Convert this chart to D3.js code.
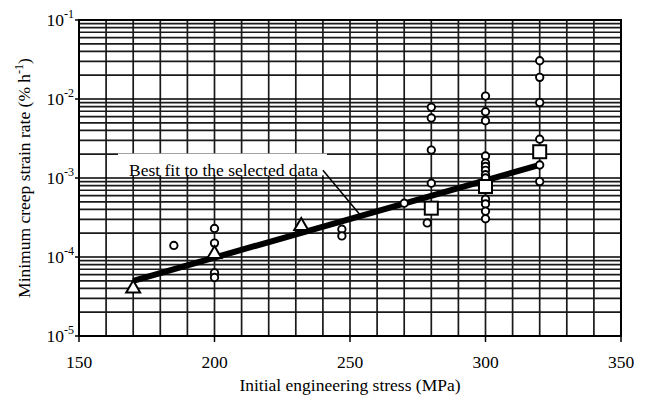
<!DOCTYPE html>
<html>
<head>
<meta charset="utf-8">
<script src="https://cdn.jsdelivr.net/npm/d3@7"></script>
<style>
  body { margin: 0; background: #fff; }
  text { font-family: "Liberation Serif", "Times New Roman", serif; fill: #000; }
</style>
</head>
<body>
<div id="chart"></div>
<script>
// data (stress in MPa, rate in % per hour)
var circleStress = [185, 200, 200, 200, 200, 247, 247, 270,
    280, 280, 280, 280, 278.5,
    300, 300, 300, 300, 300, 300, 300, 300, 300, 300, 300, 300, 300,
    320, 320, 320, 320, 320, 320];
var circleRate = [1.4e-4, 2.3e-4, 1.5e-4, 6.3e-5, 5.5e-5, 2.25e-4, 1.85e-4, 4.8e-4,
    7.85e-3, 5.75e-3, 2.26e-3, 8.6e-4, 2.7e-4,
    1.09e-2, 6.9e-3, 5.3e-3, 1.9e-3, 1.55e-3, 1.4e-3, 1.25e-3, 1.1e-3, 1.0e-3, 5.4e-4, 4.7e-4, 3.8e-4, 3.05e-4,
    3.05e-2, 1.88e-2, 9e-3, 3.1e-3, 1.46e-3, 9e-4];
var triStress = [170, 200, 232];
var triRate = [4.1e-5, 1.12e-4, 2.55e-4];
var sqStress = [280, 300, 320];
var sqRate = [4.15e-4, 7.8e-4, 2.15e-3];
var fitStress = [170, 320];
var fitRate = [5e-5, 1.47e-3];
var xTicks = [150, 200, 250, 300, 350];
var yExp = [-5, -4, -3, -2, -1];

var W = 647, H = 398;
var margin = { top: 20, right: 26, bottom: 62, left: 79 };

var svg = d3.select("#chart").append("svg")
    .attr("width", W)
    .attr("height", H);

var x = d3.scaleLinear().domain([150, 350]).range([margin.left, W - margin.right]);
var y = d3.scaleLog().domain([1e-5, 1e-1]).range([H - margin.bottom, margin.top]);

var x0 = x.range()[0], x1 = x.range()[1];
var yb = y.range()[0], yt = y.range()[1];

// grid
var grid = svg.append("g").attr("stroke", "#1a1a1a").attr("stroke-width", 1.7);
d3.range(160, 350, 10).forEach(function (v) {
    grid.append("line").attr("x1", x(v)).attr("x2", x(v)).attr("y1", yt).attr("y2", yb);
});
yExp.slice(0, 4).forEach(function (e) {
    d3.range(1, 10).forEach(function (k) {
        var v = k * Math.pow(10, e);
        grid.append("line").attr("x1", x0).attr("x2", x1).attr("y1", y(v)).attr("y2", y(v))
            .attr("stroke", k == 1 ? "#000" : "#1a1a1a");
    });
});

// frame
svg.append("rect").attr("x", x0).attr("y", yt).attr("width", x1 - x0).attr("height", yb - yt)
    .attr("fill", "none").attr("stroke", "#000").attr("stroke-width", 2);

// x ticks + labels
xTicks.forEach(function (v) {
    svg.append("line").attr("x1", x(v)).attr("x2", x(v)).attr("y1", yb).attr("y2", yb + 6)
        .attr("stroke", "#000").attr("stroke-width", 1.5);
    svg.append("text").attr("x", x(v)).attr("y", yb + 32).attr("text-anchor", "middle")
        .style("font-size", "17.5px").text(v);
});

// y ticks + labels
yExp.forEach(function (e) {
    var v = Math.pow(10, e);
    svg.append("line").attr("x1", x0 - 4).attr("x2", x0).attr("y1", y(v)).attr("y2", y(v))
        .attr("stroke", "#000").attr("stroke-width", 1.5);
    var t = svg.append("text").attr("x", x0 - 5).attr("y", y(v) + 6).attr("text-anchor", "end")
        .style("font-size", "17.5px");
    t.append("tspan").text("10");
    t.append("tspan").attr("dy", -8).style("font-size", "12px").text(e);
});

// annotation box (white patch over grid)
var boxL = 118, boxR = 327;
svg.append("rect").attr("x", boxL).attr("y", y(2.1e-3) + 1).attr("width", boxR - boxL)
    .attr("height", y(1.05e-3) - y(2.1e-3) - 2).attr("fill", "#fff");
svg.append("text").attr("x", (boxL + boxR) / 2 + 1).attr("y", y(1.5e-3) + 12)
    .attr("text-anchor", "middle").style("font-size", "17.5px").text("Best fit to the selected data");

// leader line onto the fit
var fitAt = d3.scaleLinear().domain(fitStress).range(fitRate.map(Math.log10));
svg.append("line")
    .attr("x1", x(240)).attr("y1", y(1.25e-3))
    .attr("x2", x(254)).attr("y2", y(Math.pow(10, fitAt(254))))
    .attr("stroke", "#000").attr("stroke-width", 1.5);

// fit line
svg.append("path")
    .datum(fitStress.map(function (s, i) { return [s, fitRate[i]]; }))
    .attr("d", d3.line().x(function (d) { return x(d[0]); }).y(function (d) { return y(d[1]); }))
    .attr("stroke", "#000").attr("stroke-width", 6).attr("fill", "none");

// circles
svg.append("g").selectAll("circle")
    .data(circleStress.map(function (s, i) { return [s, circleRate[i]]; }))
    .enter().append("circle")
    .attr("cx", function (d) { return x(d[0]); })
    .attr("cy", function (d) { return y(d[1]); })
    .attr("r", 3.7)
    .attr("fill", "#fff").attr("stroke", "#000").attr("stroke-width", 1.9);

// squares
svg.append("g").selectAll("rect")
    .data(sqStress.map(function (s, i) { return [s, sqRate[i]]; }))
    .enter().append("rect")
    .attr("x", function (d) { return x(d[0]) - 6.5; })
    .attr("y", function (d) { return y(d[1]) - 6.5; })
    .attr("width", 13).attr("height", 13)
    .attr("fill", "#fff").attr("stroke", "#000").attr("stroke-width", 2);

// triangles
svg.append("g").selectAll("path")
    .data(triStress.map(function (s, i) { return [s, triRate[i]]; }))
    .enter().append("path")
    .attr("d", function (d) {
        var cx = x(d[0]), cy = y(d[1]);
        return "M" + cx + "," + (cy - 7) + "L" + (cx + 7) + "," + (cy + 5) + "L" + (cx - 7) + "," + (cy + 5) + "Z";
    })
    .attr("fill", "#fff").attr("stroke", "#000").attr("stroke-width", 2);

// axis titles
svg.append("text").attr("x", (x0 + x1) / 2).attr("y", H - 7).attr("text-anchor", "middle")
    .style("font-size", "17.5px").text("Initial engineering stress (MPa)");

var yt2 = svg.append("text")
    .attr("transform", "translate(30," + ((yt + yb) / 2) + ") rotate(-90)")
    .attr("text-anchor", "middle").style("font-size", "17.5px");
yt2.append("tspan").text("Minimum creep strain rate (% h");
yt2.append("tspan").attr("dy", -7).style("font-size", "12px").text("-1");
yt2.append("tspan").attr("dy", 7).text(")");
</script>
</body>
</html>
